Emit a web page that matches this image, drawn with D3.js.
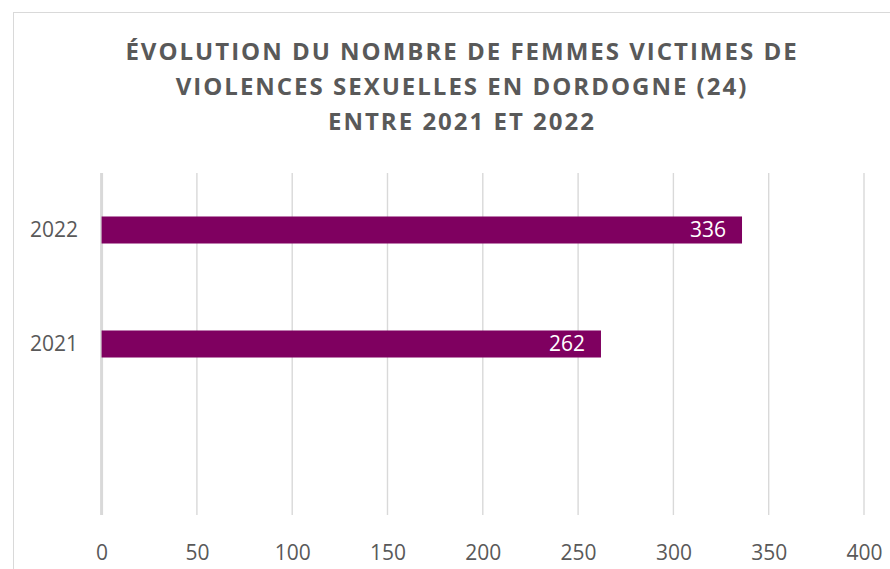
<!DOCTYPE html>
<html>
<head>
<meta charset="utf-8">
<script src="https://cdn.jsdelivr.net/npm/d3@7"></script>
<style>
  body { margin: 0; background: #fff; }
  text { font-family: "Open Sans", sans-serif; }
</style>
</head>
<body>
<div id="chart"></div>
<script>
// chart data (top to bottom, last row is empty in the source sheet)
let categories = ["2022", "2021", ""];
let values = [336, 262, null];
let xTicks = [0, 50, 100, 150, 200, 250, 300, 350, 400];
let titleLines = [
  "ÉVOLUTION DU NOMBRE DE FEMMES VICTIMES DE",
  "VIOLENCES SEXUELLES EN DORDOGNE (24)",
  "ENTRE 2021 ET 2022"
];

let svgWidth = 890;
let svgHeight = 569;

let plot = { left: 101.6, right: 864, top: 173, bottom: 515 };

let svg = d3.select("#chart")
  .append("svg")
  .attr("width", svgWidth)
  .attr("height", svgHeight);

// chart border (right and bottom edges fall outside the view)
svg.append("rect")
  .attr("x", 13.5)
  .attr("y", 12.5)
  .attr("width", 900)
  .attr("height", 600)
  .attr("fill", "#fff")
  .attr("stroke", "#d9d9d9")
  .attr("stroke-width", 1);

// title
svg.append("g")
  .selectAll("text")
  .data(titleLines)
  .enter()
  .append("text")
  .attr("x", 462)
  .attr("y", (d, i) => 60 + i * 35)
  .attr("text-anchor", "middle")
  .style("font-size", "24px")
  .style("font-weight", "bold")
  .style("letter-spacing", "2px")
  .style("fill", "#595959")
  .text(d => d);

let xScale = d3.scaleLinear()
  .domain([0, 400])
  .range([plot.left, plot.right]);

let yScale = d3.scaleBand()
  .domain(categories)
  .range([plot.top, plot.bottom])
  .paddingInner(0.763)
  .paddingOuter(0.3815);

// vertical gridlines
svg.append("g")
  .selectAll("line")
  .data(xTicks)
  .enter()
  .append("line")
  .attr("x1", d => xScale(d))
  .attr("x2", d => xScale(d))
  .attr("y1", plot.top)
  .attr("y2", plot.bottom)
  .attr("stroke", "#d9d9d9")
  .attr("stroke-width", d => d === 0 ? 3 : 1.4);

// x axis labels
let bottomAxis = d3.axisBottom(xScale)
  .tickValues(xTicks)
  .tickSize(0)
  .tickPadding(0);

let xAxis = svg.append("g")
  .attr("transform", `translate(0, 545)`)
  .call(bottomAxis);
xAxis.select(".domain").remove();
xAxis.selectAll("text")
  .attr("dy", "0")
  .attr("y", 15)
  .style("font-size", "21px")
  .style("font-family", "Open Sans, sans-serif")
  .style("fill", "#595959");

// y axis labels
let leftAxis = d3.axisLeft(yScale)
  .tickSize(0)
  .tickPadding(0);

let yAxis = svg.append("g")
  .attr("transform", `translate(78, 0)`)
  .call(leftAxis);
yAxis.select(".domain").remove();
yAxis.selectAll("text")
  .attr("dy", "0.35em")
  .style("font-size", "21px")
  .style("font-family", "Open Sans, sans-serif")
  .style("fill", "#595959");

let rows = categories.map((c, i) => ({ cat: c, value: values[i] }))
  .filter(d => d.value !== null);

// bars
svg.append("g")
  .selectAll("rect")
  .data(rows)
  .enter()
  .append("rect")
  .attr("x", xScale(0))
  .attr("y", d => yScale(d.cat))
  .attr("width", d => xScale(d.value) - xScale(0))
  .attr("height", yScale.bandwidth())
  .attr("fill", "#7f0060");

// value labels inside bar end
svg.append("g")
  .selectAll("text")
  .data(rows)
  .enter()
  .append("text")
  .attr("x", d => xScale(d.value) - 16)
  .attr("y", d => yScale(d.cat) + yScale.bandwidth() / 2)
  .attr("dy", "0.35em")
  .attr("text-anchor", "end")
  .style("font-size", "21px")
  .style("fill", "#fff")
  .text(d => d.value);
</script>
</body>
</html>
